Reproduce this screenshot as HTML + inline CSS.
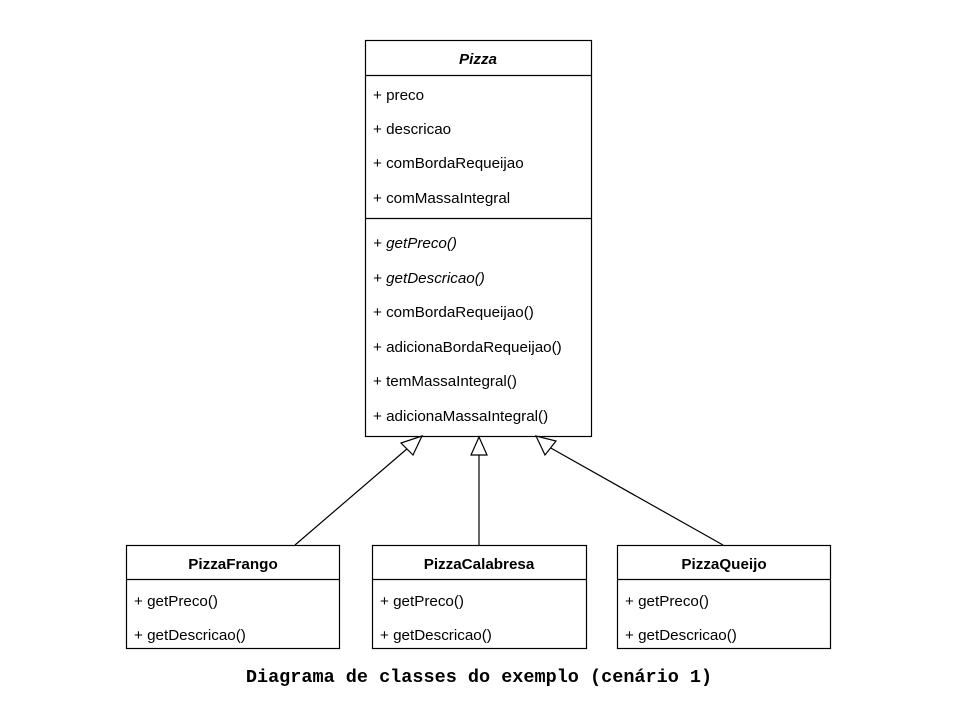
<!DOCTYPE html><html><head><style>body{margin:0;background:#fff}</style></head><body>
<svg width="965" height="699" xmlns="http://www.w3.org/2000/svg" font-family="Liberation Sans, Arial, sans-serif" font-size="15.2">
<g fill="#fff" stroke="#000" stroke-width="1.2">
<rect x="365.5" y="40.5" width="226" height="396"/>
<rect x="126.5" y="545.5" width="213" height="103"/>
<rect x="372.5" y="545.5" width="214" height="103"/>
<rect x="617.5" y="545.5" width="213" height="103"/>
</g>
<g stroke="#000" stroke-width="1.2">
<line x1="365" y1="75.5" x2="591" y2="75.5"/>
<line x1="365" y1="218.5" x2="591" y2="218.5"/>
<line x1="126" y1="579.5" x2="339" y2="579.5"/>
<line x1="372" y1="579.5" x2="586" y2="579.5"/>
<line x1="617" y1="579.5" x2="830" y2="579.5"/>
<line x1="295" y1="545" x2="408" y2="448"/>
<line x1="479" y1="545" x2="479" y2="455"/>
<line x1="723" y1="545" x2="549" y2="447"/>
</g>
<g fill="#fff" stroke="#000" stroke-width="1.2">
<polygon points="422,436 401,443 413,455"/>
<polygon points="479,437 471,455 487,455"/>
<polygon points="536,436 545,455 556,441"/>
</g>
<g font-weight="bold" text-anchor="middle">
<text x="478" y="64" font-style="italic">Pizza</text>
<text x="233" y="569">PizzaFrango</text>
<text x="479" y="569">PizzaCalabresa</text>
<text x="724" y="569">PizzaQueijo</text>
</g>
<g>
<text x="373" y="100">+ preco</text>
<text x="373" y="134">+ descricao</text>
<text x="373" y="168">+ comBordaRequeijao</text>
<text x="373" y="203">+ comMassaIntegral</text>
<text x="373" y="248" font-style="italic">+ getPreco()</text>
<text x="373" y="283" font-style="italic">+ getDescricao()</text>
<text x="373" y="317">+ comBordaRequeijao()</text>
<text x="373" y="352">+ adicionaBordaRequeijao()</text>
<text x="373" y="386">+ temMassaIntegral()</text>
<text x="373" y="421">+ adicionaMassaIntegral()</text>
<text x="134" y="606">+ getPreco()</text>
<text x="134" y="640">+ getDescricao()</text>
<text x="380" y="606">+ getPreco()</text>
<text x="380" y="640">+ getDescricao()</text>
<text x="625" y="606">+ getPreco()</text>
<text x="625" y="640">+ getDescricao()</text>
</g>
<text x="479" y="682" text-anchor="middle" font-family="Liberation Mono, monospace" font-weight="bold" font-size="18.5">Diagrama de classes do exemplo (cenário 1)</text>
</svg>
</body></html>
